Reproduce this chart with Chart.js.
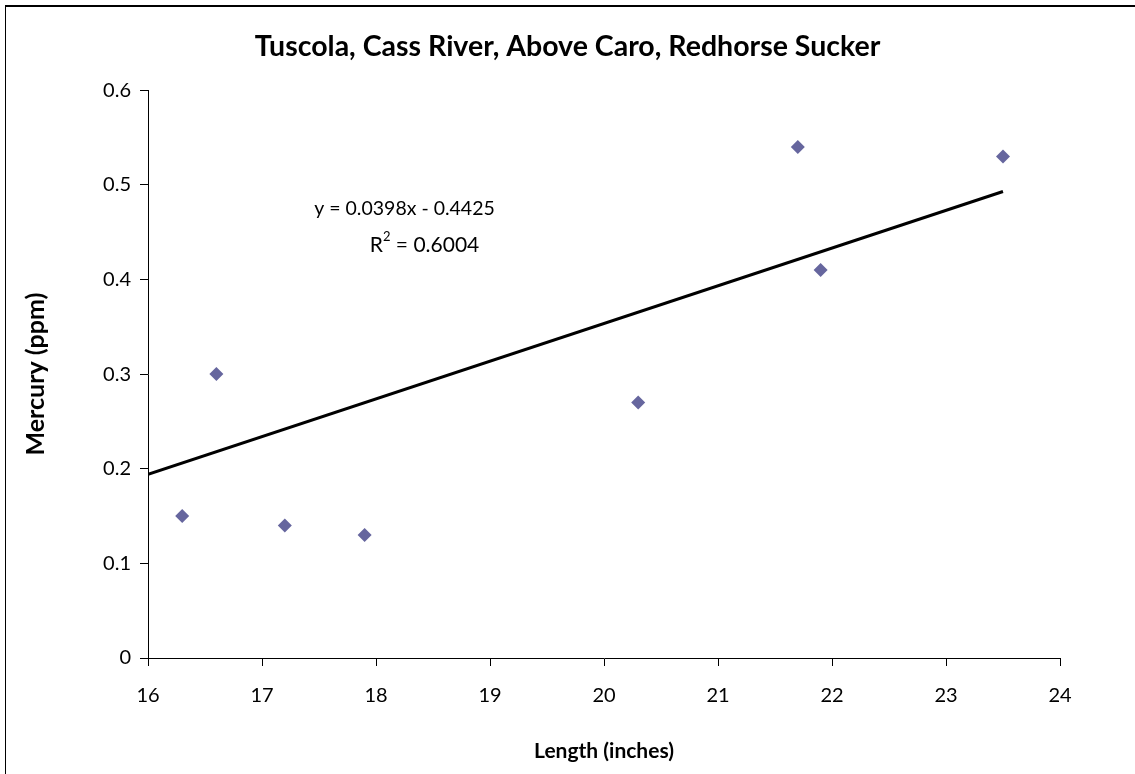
<!DOCTYPE html>
<html lang="en">
<head>
    <meta charset="UTF-8">
    <title>Tuscola, Cass River, Above Caro, Redhorse Sucker</title>
    <script src="https://cdn.jsdelivr.net/npm/chart.js"></script>
    <style>
        html, body { margin: 0; padding: 0; background: #fff; }
        #wrap { width: 1135px; height: 774px; position: relative; }
    </style>
</head>
<body>
    <div id="wrap"><canvas id="hgChart" width="1135" height="774"></canvas></div>

    <script>
        // Fish length (inches) vs mercury (ppm)
        const lengths = [16.3, 16.6, 17.2, 17.9, 20.3, 21.7, 21.9, 23.5];
        const mercury = [0.15, 0.30, 0.14, 0.13, 0.27, 0.54, 0.41, 0.53];

        // Linear trendline end points
        const trendX = [16, 23.5];
        const trendY = [0.194, 0.493];

        const equationText = "y = 0.0398x - 0.4425";
        const r2Value = "0.6004";
        const labelAt = { x: 18.25, y: 0.475 };

        const FONT = "Lato, 'Open Sans', sans-serif";

        const points = lengths.map((x, i) => ({ x: x, y: mercury[i] }));
        const trend = trendX.map((x, i) => ({ x: x, y: trendY[i] }));

        // outer frame (cut off at right/bottom) + regression label
        const extras = {
            id: "extras",
            afterDraw(chart) {
                const ctx = chart.ctx;
                ctx.save();
                ctx.strokeStyle = "#000";
                ctx.lineWidth = 1;
                ctx.beginPath();
                ctx.moveTo(5.5, 774);
                ctx.lineTo(5.5, 6);
                ctx.stroke();
                ctx.lineWidth = 2;
                ctx.beginPath();
                ctx.moveTo(5, 6);
                ctx.lineTo(1135, 6);
                ctx.stroke();

                const px = chart.scales.x.getPixelForValue(labelAt.x);
                const py = chart.scales.y.getPixelForValue(labelAt.y);
                ctx.fillStyle = "#000";
                ctx.textBaseline = "middle";
                ctx.textAlign = "center";
                ctx.font = "19.5px " + FONT;
                ctx.fillText(equationText, px, py);

                // R^2 line with a raised 2
                const rest = " = " + r2Value;
                ctx.font = "21px " + FONT;
                const wR = ctx.measureText("R").width;
                ctx.font = "13px " + FONT;
                const w2 = ctx.measureText("2").width;
                ctx.font = "21px " + FONT;
                const wRest = ctx.measureText(rest).width;
                let sx = px + 20 - (wR + w2 + wRest) / 2;
                const sy = py + 37;
                ctx.textAlign = "left";
                ctx.fillText("R", sx, sy);
                sx += wR;
                ctx.font = "13px " + FONT;
                ctx.fillText("2", sx, sy - 9);
                sx += w2;
                ctx.font = "21px " + FONT;
                ctx.fillText(rest, sx, sy);
                ctx.restore();
            }
        };

        new Chart(document.getElementById("hgChart"), {
            type: "scatter",
            data: {
                datasets: [
                    {
                        label: "Mercury",
                        data: points,
                        pointStyle: "rectRot",
                        pointRadius: 7,
                        pointHoverRadius: 7,
                        backgroundColor: "#66669e",
                        borderColor: "#66669e",
                        borderWidth: 0
                    },
                    {
                        type: "line",
                        label: "Linear",
                        data: trend,
                        borderColor: "#000",
                        borderWidth: 3,
                        pointRadius: 0,
                        fill: false
                    }
                ]
            },
            options: {
                responsive: false,
                animation: false,
                layout: { padding: { left: 0, right: 0, top: 0, bottom: 0 } },
                plugins: {
                    legend: { display: false },
                    tooltip: { enabled: false },
                    title: {
                        display: true,
                        text: "Tuscola, Cass River, Above Caro, Redhorse Sucker",
                        color: "#000",
                        font: { family: FONT, size: 28.5, weight: "bold" },
                        padding: { top: 30, bottom: 26 }
                    }
                },
                scales: {
                    x: {
                        type: "linear",
                        min: 16,
                        max: 24,
                        afterFit: s => { s.height = 116; },
                        ticks: { stepSize: 1, color: "#000", padding: 18, font: { family: FONT, size: 20 } },
                        grid: { drawOnChartArea: false, drawTicks: true, tickLength: 8, color: "#000" },
                        border: { display: true, color: "#000", width: 1 },
                        title: {
                            display: true,
                            text: "Length (inches)",
                            color: "#000",
                            font: { family: FONT, size: 21, weight: "bold" },
                            padding: { top: 0, bottom: 10 }
                        }
                    },
                    y: {
                        min: 0,
                        max: 0.6,
                        afterFit: s => { s.width = 148; },
                        ticks: { stepSize: 0.1, color: "#000", padding: 9, font: { family: FONT, size: 20 } },
                        grid: { drawOnChartArea: false, drawTicks: true, tickLength: 8, color: "#000" },
                        border: { display: true, color: "#000", width: 1 },
                        title: {
                            display: true,
                            text: "Mercury (ppm)",
                            color: "#000",
                            font: { family: FONT, size: 25, weight: "bold" },
                            padding: { top: 21, bottom: 0 }
                        }
                    },
                    // empty right-hand margin, keeps the title centred on the whole frame
                    rightPad: {
                        type: "linear",
                        position: "right",
                        min: 0,
                        max: 1,
                        afterFit: s => { s.width = 75; },
                        ticks: { display: false },
                        grid: { display: false },
                        border: { display: false }
                    }
                }
            },
            plugins: [extras]
        });
    </script>
</body>
</html>
